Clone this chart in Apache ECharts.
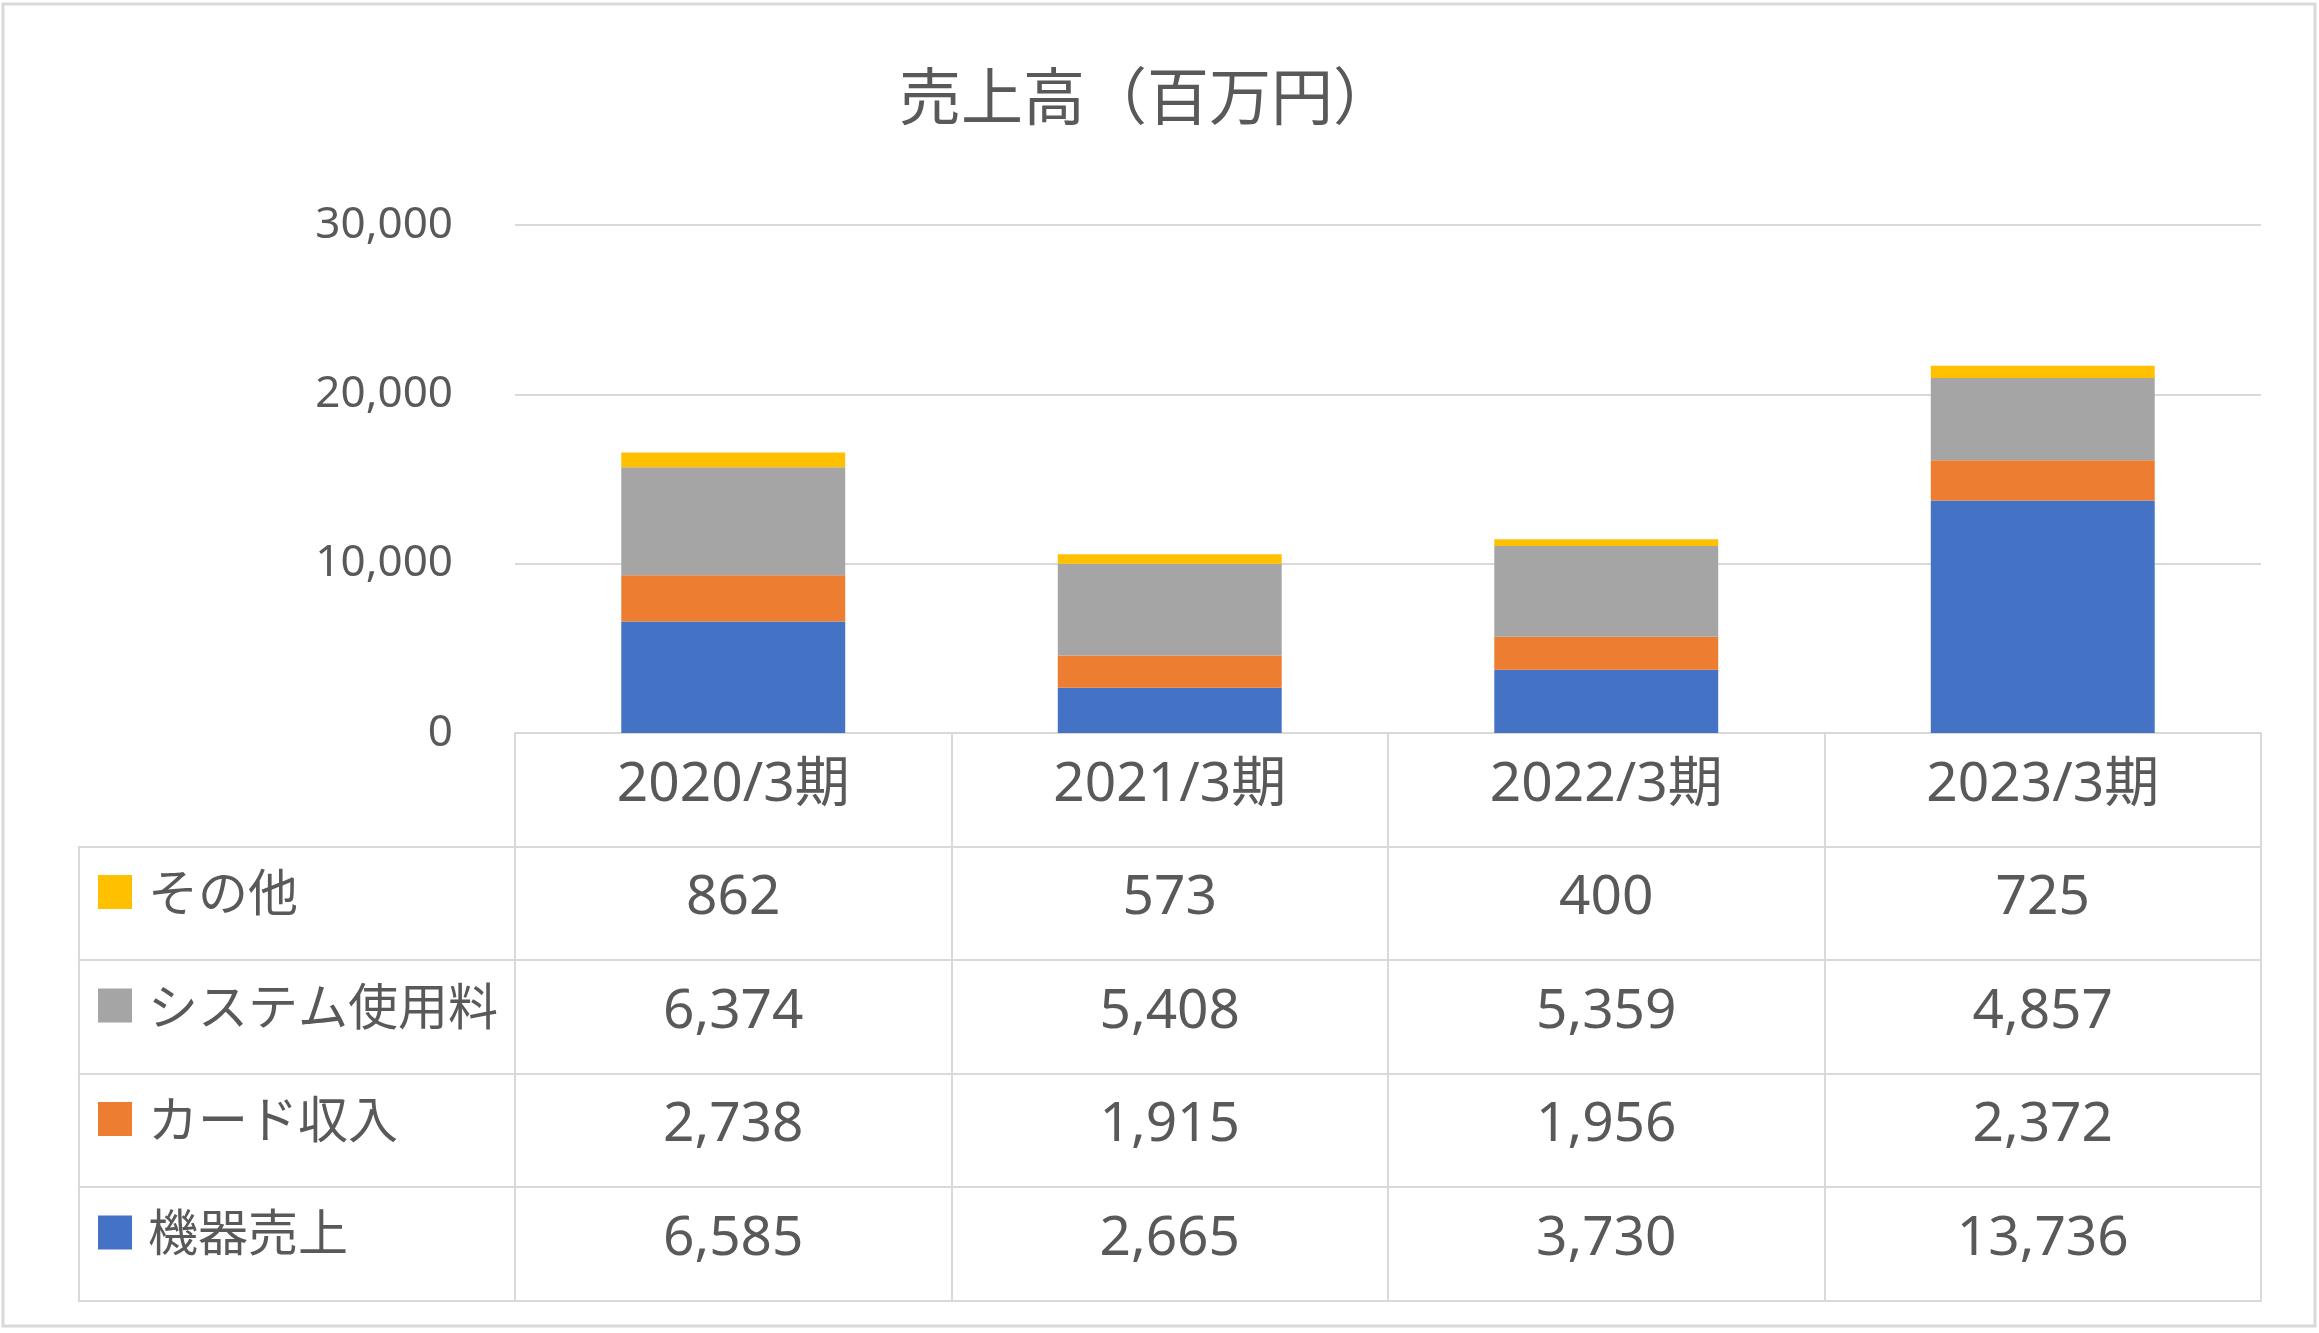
<!DOCTYPE html>
<html>
<head>
<meta charset="utf-8">
<style>
  html, body { margin: 0; padding: 0; background: #ffffff; }
  #chart { width: 2319px; height: 1333px; }
</style>
<script src="https://cdn.jsdelivr.net/npm/echarts@6/dist/echarts.min.js"></script>
</head>
<body>
<div id="chart"></div>
<script>
// ---- data ----
const categories = ['2020/3期', '2021/3期', '2022/3期', '2023/3期'];
const kikiUriage = [6585, 2665, 3730, 13736];      // 機器売上
const cardShunyu = [2738, 1915, 1956, 2372];       // カード収入
const systemShiyoryo = [6374, 5408, 5359, 4857];   // システム使用料
const sonota = [862, 573, 400, 725];               // その他
const seriesNames = ['機器売上', 'カード収入', 'システム使用料', 'その他'];
const yAxisMin = 0, yAxisMax = 30000, yAxisStep = 10000;

// ---- styles ----
const TXT = '#595959';
const LINE = '#d9d9d9';
const NUMF = "'Noto Sans', 'Noto Sans CJK JP', sans-serif";
const CJKF = "'Noto Sans CJK JP', 'Noto Sans', sans-serif";
const COLORS = ['#4472C4', '#ED7D31', '#A5A5A5', '#FFC000'];
const rowH = 113.5;
const legendFont = 50;

const fmt = v => Number(v).toLocaleString('en-US');

const seriesData = [kikiUriage, cardShunyu, systemShiyoryo, sonota];
// table rows, top to bottom
const tableRows = [sonota, systemShiyoryo, cardShunyu, kikiUriage];
const legendOrder = ['その他', 'システム使用料', 'カード収入', '機器売上'];

const tableAxes = tableRows.map((row, k) => ({
  gridIndex: 1,
  type: 'category',
  data: [''].concat(categories),
  position: 'bottom',
  offset: k * rowH,
  boundaryGap: true,
  axisLine: { show: true, lineStyle: { color: LINE, width: 2 } },
  axisTick: { show: true, interval: 0, length: rowH, alignWithLabel: false, lineStyle: { color: LINE, width: 2 } },
  axisLabel: {
    interval: 0, margin: 52, verticalAlign: 'middle',
    fontSize: 55, color: TXT, fontFamily: NUMF,
    formatter: (v, i) => (i === 0 ? '' : fmt(row[i - 1]))
  },
  splitLine: { show: false }
}));
tableAxes.push({
  gridIndex: 1,
  type: 'category',
  data: [''].concat(categories),
  position: 'bottom',
  offset: tableRows.length * rowH,
  axisLine: { show: true, lineStyle: { color: LINE, width: 2 } },
  axisTick: { show: false },
  axisLabel: { show: false }
});

const option = {
  animation: false,
  backgroundColor: '#ffffff',
  title: {
    text: '売上高（百万円）',
    left: 899, top: 65, padding: 0,
    textStyle: { fontSize: 62, fontWeight: 'normal', color: TXT, fontFamily: CJKF }
  },
  legend: {
    data: legendOrder.map(n => ({ name: n, icon: 'rect' })),
    orient: 'vertical',
    left: 98, top: 867, padding: 0,
    itemWidth: 34, itemHeight: 34, itemGap: rowH - legendFont,
    selectedMode: false,
    textStyle: { fontSize: legendFont, color: TXT, fontFamily: CJKF, padding: [0, 0, 0, 11] }
  },
  grid: [
    { left: 515, right: 58, top: 225, height: 508, outerBoundsMode: 'none', containLabel: false },
    { left: 515 - 436.5, right: 58, top: 733, height: rowH, outerBoundsMode: 'none', containLabel: false }
  ],
  xAxis: [{
    gridIndex: 0,
    type: 'category',
    data: categories,
    position: 'bottom',
    boundaryGap: true,
    axisLine: { show: true, lineStyle: { color: LINE, width: 2 } },
    axisTick: { show: true, interval: 0, length: rowH, alignWithLabel: false, lineStyle: { color: LINE, width: 2 } },
    axisLabel: { interval: 0, margin: 52, verticalAlign: 'middle', fontSize: 55, color: TXT, fontFamily: NUMF },
    splitLine: { show: false }
  }].concat(tableAxes),
  yAxis: [{
    gridIndex: 0,
    type: 'value',
    min: yAxisMin, max: yAxisMax, interval: yAxisStep,
    axisLine: { show: false },
    axisTick: { show: false },
    axisLabel: { margin: 62, fontSize: 44, color: TXT, fontFamily: NUMF, formatter: v => fmt(v) },
    splitLine: { show: true, lineStyle: { color: LINE, width: 2 } }
  }, {
    gridIndex: 1, type: 'value', show: false, min: 0, max: 1
  }],
  series: seriesNames.map((name, i) => ({
    name: name,
    type: 'bar',
    stack: 'total',
    xAxisIndex: 0, yAxisIndex: 0,
    data: seriesData[i],
    barCategoryGap: '48.7%',
    itemStyle: { color: COLORS[i] },
    emphasis: { disabled: true }
  })),
  graphic: [{
    type: 'rect',
    shape: { x: 3, y: 4, width: 2312, height: 1322 },
    style: { fill: 'none', stroke: LINE, lineWidth: 3 },
    silent: true
  }]
};

const chart = echarts.init(document.getElementById('chart'), null, { renderer: 'canvas' });
chart.setOption(option);
</script>
</body>
</html>
